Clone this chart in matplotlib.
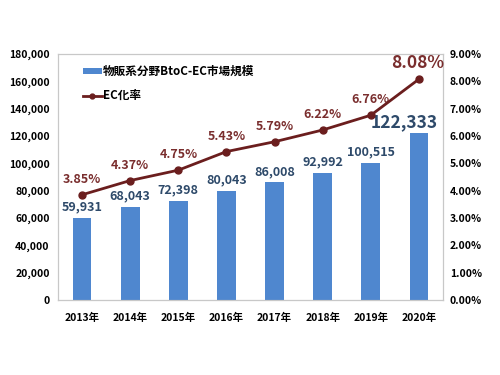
import matplotlib.pyplot as plt
from matplotlib.ticker import FuncFormatter

plt.rcParams['font.family'] = ['Noto Sans CJK JP', 'DejaVu Sans']

years = ['2013年', '2014年', '2015年', '2016年', '2017年', '2018年', '2019年', '2020年']
market = [59931, 68043, 72398, 80043, 86008, 92992, 100515, 122333]
ec_rate = [3.85, 4.37, 4.75, 5.43, 5.79, 6.22, 6.76, 8.08]

bar_color = '#4F87CF'
line_color = '#6B1E1E'
bar_text = '#2E4A6A'
pct_text = '#7A2E2E'
grey = '#C8C8C8'

fig = plt.figure(figsize=(5, 3.75), dpi=100)
ax = fig.add_axes([0.116, 0.2, 0.77, 0.656])
ax2 = ax.twinx()

x = list(range(len(years)))
bars = ax.bar(x, market, width=0.39, color=bar_color, label='物販系分野BtoC-EC市場規模')
line, = ax2.plot(x, ec_rate, color=line_color, lw=2, marker='o', ms=5,
                 label='EC化率', zorder=5)

ax.set_xlim(-0.5, 7.5)
ax.set_ylim(0, 180000)
ax.set_yticks(range(0, 180001, 20000))
ax.yaxis.set_major_formatter(FuncFormatter(lambda v, p: f'{int(v):,}'))
ax2.set_ylim(0, 9)
ax2.set_yticks(range(0, 10))
ax2.yaxis.set_major_formatter(FuncFormatter(lambda v, p: f'{v:.2f}%'))
ax.set_xticks(x)
ax.set_xticklabels(years)

for a in (ax, ax2):
    for s in a.spines.values():
        s.set_color(grey)
    a.tick_params(length=0, labelsize=7.5, colors='black', pad=6)
    for lb in a.get_yticklabels() + a.get_xticklabels():
        lb.set_fontweight('bold')
ax.spines['bottom'].set_color('#B0B0B0')
ax.tick_params(axis='x', pad=9)
ax2.tick_params(axis='y', pad=5)

# bar value labels (on ax2 coords so the line sits above them)
for i, v in enumerate(market):
    big = i == len(market) - 1
    ax2.text(i - (0.3 if big else 0), v / 20000 + 0.4, f'{v:,}',
             ha='center', va='center', fontsize=12.5 if big else 9,
             fontweight='bold', color=bar_text, zorder=3)

# rate labels
for i, r in enumerate(ec_rate):
    big = i == len(ec_rate) - 1
    ax2.text(i - (0.02 if big else 0), r + (0.6 if big else 0.56), f'{r:.2f}%',
             ha='center', va='center', fontsize=12.5 if big else 9,
             fontweight='bold', color=pct_text, zorder=3)

leg = ax2.legend(handles=[bars, line], loc='upper left', bbox_to_anchor=(0.065, 0.955),
                 frameon=False, prop={'weight': 'bold', 'size': 8.4},
                 borderpad=0, borderaxespad=0, markerscale=0.7,
                 handlelength=1.6, handleheight=0.4, labelspacing=0.95,
                 handletextpad=0.1)

fig.savefig('out.png', dpi=100)
